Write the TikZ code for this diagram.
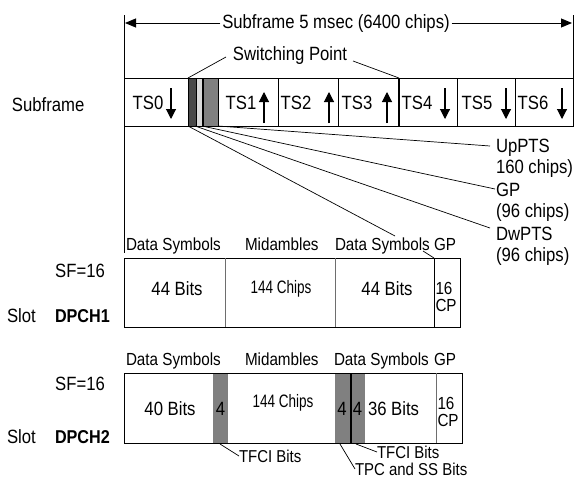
\documentclass[tikz,border=0pt]{standalone}
\usepackage{fontspec}
\setmainfont[FakeStretch=0.87]{Liberation Sans}
\newfontfamily\chipsfam[FakeStretch=0.75]{Liberation Sans}
\usetikzlibrary{arrows.meta}
\definecolor{darkg}{RGB}{72,72,72}
\definecolor{lightg}{RGB}{218,218,218}
\definecolor{midg}{RGB}{128,128,128}
\definecolor{divg}{RGB}{110,110,110}
\begin{document}
\begin{tikzpicture}[x=1pt,y=-1pt,
  every node/.style={inner sep=0pt, outer sep=0pt},
  big/.style={font=\fontsize{19.2}{21}\selectfont},
  bigb/.style={font=\fontsize{18.6}{21}\selectfont\bfseries},
  gpcol/.style={font=\fontsize{17.5}{17.5}\selectfont, align=left, anchor=west},
  lab/.style={font=\fontsize{17.5}{19}\selectfont},
  call/.style={font=\fontsize{17.2}{19}\selectfont},
  chipsf/.style={font=\chipsfam\fontsize{18}{19}\selectfont},
  lw/.style={line width=0.9pt},
  thinl/.style={line width=0.7pt},
  divl/.style={line width=0.9pt, draw=divg},
  tsarrow/.style={line width=1.1pt, -{Triangle[length=10pt,width=10pt]}},
  endtip/.style={-{Triangle[length=11pt,width=9pt]}},
]
\useasboundingbox (0,0) rectangle (575,479);

% ---- top dimension arrow
\node[big, anchor=base, inner sep=2pt] (title) at (336,28) {Subframe 5 msec (6400 chips)};
\coordinate (aL) at (125,23);
\coordinate (aR) at (572,23);
\draw[lw, endtip] (aL -| title.west) -- (aL);
\draw[lw, endtip] (aR -| title.east) -- (aR);
\coordinate (vlT) at (124,15);
\coordinate (vlB) at (124,253);
\draw[lw] (vlT) -- (vlB);
\coordinate (vrT) at (573,15);
\coordinate (vrB) at (573,78);
\draw[lw] (vrT) -- (vrB);

% ---- subframe
\node[big, anchor=base west] (sflab) at (12,111) {Subframe};
\draw[lw] (124,78) rectangle (573,126);
\draw[lw] (278,78) -- (278,126);
\draw[lw] (338,78) -- (338,126);
\draw[line width=2pt] (399,78) -- (399,126);
\draw[lw] (457,78) -- (457,126);
\draw[lw] (515,78) -- (515,126);
\draw[lw, fill=darkg] (188,78) rectangle (196,126);
\draw[lw, fill=lightg] (196,78) rectangle (202,126);
\draw[lw, fill=midg] (203,78) rectangle (218,126);

\node[big] (ts0) at (148,103) {TS0};
\node[big] (ts1) at (241,103) {TS1};
\node[big] (ts2) at (296,103) {TS2};
\node[big] (ts3) at (357,103) {TS3};
\node[big] (ts4) at (417,103) {TS4};
\node[big] (ts5) at (477,103) {TS5};
\node[big] (ts6) at (533,103) {TS6};
\draw[tsarrow] (171,88) -- (171,119);
\draw[tsarrow] (264,123) -- (264,92);
\draw[tsarrow] (329,123) -- (329,92);
\draw[tsarrow] (387,123) -- (387,92);
\draw[tsarrow] (445,88) -- (445,119);
\draw[tsarrow] (506,88) -- (506,119);
\draw[tsarrow] (562,88) -- (562,119);

% ---- switching point
\node[big, anchor=base] (sw) at (290,60) {Switching Point};
\coordinate (spL) at (226,57);
\coordinate (spR) at (353,61);
\coordinate (spA) at (188,78);
\coordinate (spB) at (399,78);
\draw[thinl] (spL) -- (spA);
\draw[thinl] (spR) -- (spB);

% ---- fan lines and labels
\node[big, anchor=base west] (up1) at (496,152) {UpPTS};
\node[big, anchor=base west] (up2) at (496,173) {160 chips)};
\node[big, anchor=base west] (gp1) at (496,196) {GP};
\node[big, anchor=base west] (gp2) at (496,217) {(96 chips)};
\node[big, anchor=base west] (dw1) at (496,240) {DwPTS};
\node[big, anchor=base west] (dw2) at (496,261) {(96 chips)};
\coordinate (f1) at (188,126);
\coordinate (f2) at (195,126);
\coordinate (f3) at (202,126);
\coordinate (f4) at (218,126);
\coordinate (e1) at (395,236);
\coordinate (e2) at (490,228);
\coordinate (e3) at (495,189);
\coordinate (e4) at (490,146);
\draw[thinl] (f1) -- (e1);
\draw[thinl] (f2) -- (e2);
\draw[thinl] (f3) -- (e3);
\draw[thinl] (f4) -- (e4);

% ---- DPCH1
\node[lab, anchor=base west] (l1a) at (126,250) {Data Symbols};
\node[lab, anchor=base west] (l1b) at (245,250) {Midambles};
\node[lab, anchor=base west] (l1c) at (335,250) {Data Symbols};
\node[lab, anchor=base west] (l1d) at (434,250) {GP};
\coordinate (g1a) at (423,251);
\coordinate (g1b) at (434,258);
\draw[thinl] (g1a) -- (g1b);
\draw[lw] (124,258) rectangle (460,327);
\draw[divl] (225,258) -- (225,327);
\draw[divl] (335,258) -- (335,327);
\draw[lw] (434,258) -- (434,327);
\node[big] (d1a) at (177,289) {44 Bits};
\node[chipsf] (d1b) at (281,289) {144 Chips};
\node[big] (d1c) at (387,289) {44 Bits};
\node[gpcol] (d1d) at (435.5,297) {16\\CP};
\node[big] (sf1) at (80,271) {SF=16};
\node[big, anchor=base west] (slot1) at (7,322) {Slot};
\node[bigb, anchor=base west] (ch1) at (55,322) {DPCH1};

% ---- DPCH2
\node[lab, anchor=base west] (l2a) at (126,365) {Data Symbols};
\node[lab, anchor=base west] (l2b) at (245,365) {Midambles};
\node[lab, anchor=base west] (l2c) at (334,365) {Data Symbols};
\node[lab, anchor=base west] (l2d) at (434,365) {GP};
\fill[midg] (213,373) rectangle (228,443);
\fill[midg] (335,373) rectangle (365,443);
\draw[lw] (124,373) rectangle (462,443);
\draw[line width=2pt] (351,373) -- (351,443);
\draw[divl] (436,373) -- (436,443);
\node[big] (d2a) at (170,409) {40 Bits};
\node[big] (d2b) at (220.5,409) {4};
\node[chipsf] (d2c) at (283,403) {144 Chips};
\node[big] (d2d) at (342,409) {4};
\node[big] (d2e) at (357.5,409) {4};
\node[big, anchor=west] (d2f) at (368,409) {36 Bits};
\node[gpcol] (d2g) at (437.5,412) {16\\CP};
\node[big] (sf2) at (80,384) {SF=16};
\node[big, anchor=base west] (slot2) at (7,443) {Slot};
\node[bigb, anchor=base west] (ch2) at (55,443) {DPCH2};

% ---- callouts
\node[call, anchor=west] (tf1) at (239,456) {TFCI Bits};
\node[call, anchor=west] (tf2) at (377,452) {TFCI Bits};
\node[call, anchor=west] (tpc) at (355,469) {TPC and SS Bits};
\coordinate (c1) at (220,444);
\coordinate (c2) at (356,444);
\coordinate (c3) at (340,444);
\draw[thinl] (c1) -- (tf1.west);
\draw[thinl] (c2) -- (tf2.west);
\draw[thinl] (c3) -- (tpc.west);
\end{tikzpicture}
\end{document}
